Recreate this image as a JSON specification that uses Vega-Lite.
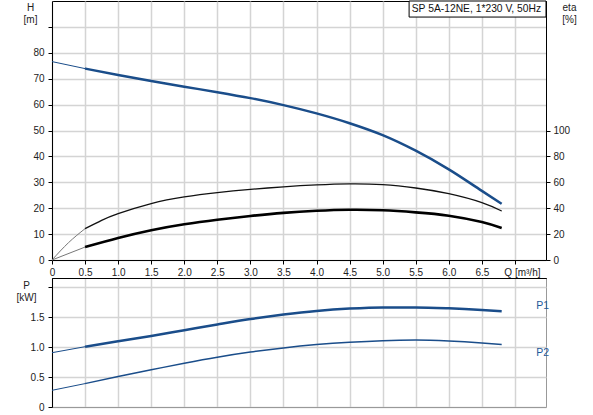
{
  "$schema": "https://vega.github.io/schema/vega-lite/v6.json",
  "padding": {"left": 15, "top": 0, "right": 0, "bottom": 0},
  "bounds": "flush",
  "spacing": 18,
  "data": {
    "values": [
      {"s": "H", "seg": "ext", "q": 0, "v": 76.6},
      {"s": "H", "seg": "ext", "q": 0.5, "v": 73.9},
      {"s": "H", "seg": "main", "q": 0.5, "v": 73.9},
      {"s": "H", "seg": "main", "q": 1.0, "v": 71.4},
      {"s": "H", "seg": "main", "q": 1.5, "v": 69.1},
      {"s": "H", "seg": "main", "q": 2.0, "v": 66.9},
      {"s": "H", "seg": "main", "q": 2.5, "v": 64.8},
      {"s": "H", "seg": "main", "q": 3.0, "v": 62.5},
      {"s": "H", "seg": "main", "q": 3.5, "v": 59.8},
      {"s": "H", "seg": "main", "q": 4.0, "v": 56.6},
      {"s": "H", "seg": "main", "q": 4.5, "v": 52.8},
      {"s": "H", "seg": "main", "q": 5.0, "v": 48.2},
      {"s": "H", "seg": "main", "q": 5.5, "v": 42.2},
      {"s": "H", "seg": "main", "q": 6.0, "v": 35.0},
      {"s": "H", "seg": "main", "q": 6.5, "v": 26.7},
      {"s": "H", "seg": "main", "q": 6.8, "v": 21.7},
      {"s": "eta_p", "seg": "ext", "q": 0, "v": 0},
      {"s": "eta_p", "seg": "ext", "q": 0.25, "v": 13.4},
      {"s": "eta_p", "seg": "ext", "q": 0.5, "v": 24.2},
      {"s": "eta_p", "seg": "main", "q": 0.5, "v": 24.2},
      {"s": "eta_p", "seg": "main", "q": 0.75, "v": 30.6},
      {"s": "eta_p", "seg": "main", "q": 1.0, "v": 35.8},
      {"s": "eta_p", "seg": "main", "q": 1.5, "v": 43.6},
      {"s": "eta_p", "seg": "main", "q": 2.0, "v": 48.7},
      {"s": "eta_p", "seg": "main", "q": 2.5, "v": 52.0},
      {"s": "eta_p", "seg": "main", "q": 3.0, "v": 54.5},
      {"s": "eta_p", "seg": "main", "q": 3.5, "v": 56.5},
      {"s": "eta_p", "seg": "main", "q": 4.0, "v": 58.0},
      {"s": "eta_p", "seg": "main", "q": 4.5, "v": 58.8},
      {"s": "eta_p", "seg": "main", "q": 5.0, "v": 58.2},
      {"s": "eta_p", "seg": "main", "q": 5.5, "v": 55.6},
      {"s": "eta_p", "seg": "main", "q": 6.0, "v": 51.2},
      {"s": "eta_p", "seg": "main", "q": 6.5, "v": 44.3},
      {"s": "eta_p", "seg": "main", "q": 6.8, "v": 37.8},
      {"s": "eta_t", "seg": "ext", "q": 0, "v": 0},
      {"s": "eta_t", "seg": "ext", "q": 0.5, "v": 10.0},
      {"s": "eta_t", "seg": "main", "q": 0.5, "v": 10.0},
      {"s": "eta_t", "seg": "main", "q": 1.0, "v": 17.0},
      {"s": "eta_t", "seg": "main", "q": 1.5, "v": 23.0},
      {"s": "eta_t", "seg": "main", "q": 2.0, "v": 27.6},
      {"s": "eta_t", "seg": "main", "q": 2.5, "v": 31.1},
      {"s": "eta_t", "seg": "main", "q": 3.0, "v": 34.0},
      {"s": "eta_t", "seg": "main", "q": 3.5, "v": 36.4},
      {"s": "eta_t", "seg": "main", "q": 4.0, "v": 38.0},
      {"s": "eta_t", "seg": "main", "q": 4.5, "v": 38.8},
      {"s": "eta_t", "seg": "main", "q": 5.0, "v": 38.4},
      {"s": "eta_t", "seg": "main", "q": 5.5, "v": 36.8},
      {"s": "eta_t", "seg": "main", "q": 6.0, "v": 34.2},
      {"s": "eta_t", "seg": "main", "q": 6.5, "v": 29.3},
      {"s": "eta_t", "seg": "main", "q": 6.8, "v": 24.7},
      {"s": "P1", "seg": "ext", "q": 0, "v": 0.905},
      {"s": "P1", "seg": "ext", "q": 0.5, "v": 1.005},
      {"s": "P1", "seg": "main", "q": 0.5, "v": 1.005},
      {"s": "P1", "seg": "main", "q": 1.0, "v": 1.095},
      {"s": "P1", "seg": "main", "q": 1.5, "v": 1.185},
      {"s": "P1", "seg": "main", "q": 2.0, "v": 1.28},
      {"s": "P1", "seg": "main", "q": 2.5, "v": 1.375},
      {"s": "P1", "seg": "main", "q": 3.0, "v": 1.465},
      {"s": "P1", "seg": "main", "q": 3.5, "v": 1.54},
      {"s": "P1", "seg": "main", "q": 4.0, "v": 1.60},
      {"s": "P1", "seg": "main", "q": 4.5, "v": 1.64},
      {"s": "P1", "seg": "main", "q": 5.0, "v": 1.66},
      {"s": "P1", "seg": "main", "q": 5.5, "v": 1.66},
      {"s": "P1", "seg": "main", "q": 6.0, "v": 1.645},
      {"s": "P1", "seg": "main", "q": 6.5, "v": 1.617},
      {"s": "P1", "seg": "main", "q": 6.8, "v": 1.595},
      {"s": "P2", "seg": "ext", "q": 0, "v": 0.278},
      {"s": "P2", "seg": "ext", "q": 0.5, "v": 0.39},
      {"s": "P2", "seg": "main", "q": 0.5, "v": 0.39},
      {"s": "P2", "seg": "main", "q": 1.0, "v": 0.51},
      {"s": "P2", "seg": "main", "q": 1.5, "v": 0.62},
      {"s": "P2", "seg": "main", "q": 2.0, "v": 0.73},
      {"s": "P2", "seg": "main", "q": 2.5, "v": 0.83},
      {"s": "P2", "seg": "main", "q": 3.0, "v": 0.915},
      {"s": "P2", "seg": "main", "q": 3.5, "v": 0.985},
      {"s": "P2", "seg": "main", "q": 4.0, "v": 1.04},
      {"s": "P2", "seg": "main", "q": 4.5, "v": 1.08},
      {"s": "P2", "seg": "main", "q": 5.0, "v": 1.106},
      {"s": "P2", "seg": "main", "q": 5.5, "v": 1.115},
      {"s": "P2", "seg": "main", "q": 6.0, "v": 1.10},
      {"s": "P2", "seg": "main", "q": 6.5, "v": 1.067},
      {"s": "P2", "seg": "main", "q": 6.8, "v": 1.04}
    ]
  },
  "vconcat": [
    {
      "width": 494,
      "height": 259,
      "encoding": {
        "x": {
          "field": "q", "type": "quantitative",
          "scale": {"domain": [0, 7.47], "nice": false, "zero": false},
          "axis": {
            "title": null,
            "values": [0, 0.5, 1, 1.5, 2, 2.5, 3, 3.5, 4, 4.5, 5, 5.5, 6, 6.5, 7],
            "labelExpr": "datum.value == 7 ? 'Q [m³/h]' : (datum.value == 0 ? '0' : format(datum.value, '.1f'))",
            "labelOffset": {"condition": {"test": "datum.value == 7", "value": 7}, "value": 0},
            "labelFlush": false,
            "labelOverlap": false,
            "labelSeparation": 0
          }
        }
      },
      "layer": [
        {
          "encoding": {
            "y": {
              "field": "v", "type": "quantitative",
              "scale": {"domain": [0, 100], "nice": false},
              "axis": {
                "title": ["H", "[m]"],
                "titleAngle": 0, "titleX": -22, "titleY": 1,
                "titleAlign": "center", "titleBaseline": "top",
                "values": [0, 10, 20, 30, 40, 50, 60, 70, 80, 90],
                "labelExpr": "datum.value <= 80 ? datum.label : ''",
                "labelPadding": 4
              }
            }
          },
          "layer": [
            {
              "transform": [{"filter": "datum.s == 'H' && datum.seg == 'ext'"}],
              "mark": {"type": "line", "color": "#1a4d8a", "strokeWidth": 1, "interpolate": "monotone"}
            },
            {
              "transform": [{"filter": "datum.s == 'H' && datum.seg == 'main'"}],
              "mark": {"type": "line", "color": "#1a4d8a", "strokeWidth": 2.5, "interpolate": "monotone"}
            },
            {
              "transform": [{"filter": "datum.s == 'H' && datum.q == 0"}],
              "mark": {"type": "rect", "fill": "#fff", "stroke": "#000", "strokeWidth": 1},
              "encoding": {
                "x": {"datum": 5.4, "type": "quantitative"},
                "x2": {"datum": 7.47},
                "y": {"datum": 93.8, "type": "quantitative"},
                "y2": {"datum": 100}
              }
            },
            {
              "transform": [{"filter": "datum.s == 'H' && datum.q == 0"}],
              "mark": {"type": "text", "align": "left", "baseline": "middle", "fontSize": 10.3, "color": "#111"},
              "encoding": {
                "x": {"datum": 5.44, "type": "quantitative"},
                "y": {"datum": 96.9, "type": "quantitative"},
                "text": {"value": "SP 5A-12NE, 1*230 V, 50Hz"}
              }
            }
          ]
        },
        {
          "encoding": {
            "y": {
              "field": "v", "type": "quantitative",
              "scale": {"domain": [0, 200], "nice": false},
              "axis": {
                "orient": "right",
                "title": ["eta", "[%]"],
                "titleAngle": 0, "titleX": 23, "titleY": 1,
                "titleAlign": "center", "titleBaseline": "top",
                "values": [0, 20, 40, 60, 80, 100],
                "grid": false
              }
            }
          },
          "layer": [
            {
              "transform": [{"filter": "datum.s == 'eta_p' && datum.seg == 'ext'"}],
              "mark": {"type": "line", "color": "#777", "strokeWidth": 1, "interpolate": "natural"}
            },
            {
              "transform": [{"filter": "datum.s == 'eta_p' && datum.seg == 'main'"}],
              "mark": {"type": "line", "color": "#111", "strokeWidth": 1.3, "interpolate": "natural"}
            },
            {
              "transform": [{"filter": "datum.s == 'eta_t' && datum.seg == 'ext'"}],
              "mark": {"type": "line", "color": "#777", "strokeWidth": 1, "interpolate": "natural"}
            },
            {
              "transform": [{"filter": "datum.s == 'eta_t' && datum.seg == 'main'"}],
              "mark": {"type": "line", "color": "#000", "strokeWidth": 2.6, "interpolate": "natural"}
            }
          ]
        }
      ],
      "resolve": {"scale": {"y": "independent"}}
    },
    {
      "width": 494,
      "height": 129,
      "view": {"stroke": "#999"},
      "encoding": {
        "x": {
          "field": "q", "type": "quantitative",
          "scale": {"domain": [0, 7.47], "nice": false, "zero": false},
          "axis": {
            "title": null,
            "values": [0, 0.5, 1, 1.5, 2, 2.5, 3, 3.5, 4, 4.5, 5, 5.5, 6, 6.5, 7],
            "labels": false, "ticks": false, "domainColor": "#999"
          }
        },
        "y": {
          "field": "v", "type": "quantitative",
          "scale": {"domain": [0, 2.15], "nice": false},
          "axis": {
            "title": ["P", "[kW]"],
            "titleAngle": 0, "titleX": -26, "titleY": 2,
            "titleAlign": "center", "titleBaseline": "top",
            "values": [0, 0.5, 1, 1.5, 2],
            "labelExpr": "datum.value > 1.9 ? '' : (datum.value == 0 ? '0' : format(datum.value, '.1f'))",
            "labelPadding": 4
          }
        }
      },
      "layer": [
        {
          "transform": [{"filter": "datum.s == 'P1' && datum.seg == 'ext'"}],
          "mark": {"type": "line", "color": "#1a4d8a", "strokeWidth": 1, "interpolate": "monotone"}
        },
        {
          "transform": [{"filter": "datum.s == 'P1' && datum.seg == 'main'"}],
          "mark": {"type": "line", "color": "#1a4d8a", "strokeWidth": 2.5, "interpolate": "monotone"}
        },
        {
          "transform": [{"filter": "datum.s == 'P2' && datum.seg == 'ext'"}],
          "mark": {"type": "line", "color": "#1a4d8a", "strokeWidth": 1, "interpolate": "monotone"}
        },
        {
          "transform": [{"filter": "datum.s == 'P2' && datum.seg == 'main'"}],
          "mark": {"type": "line", "color": "#1a4d8a", "strokeWidth": 1.5, "interpolate": "monotone"}
        },
        {
          "transform": [{"filter": "datum.s == 'P1' && datum.q == 0"}],
          "mark": {"type": "text", "align": "center", "baseline": "middle", "fontSize": 10.5, "color": "#1f5a9a"},
          "encoding": {
            "x": {"datum": 7.42, "type": "quantitative", "axis": {"orient": "top", "title": null, "labels": false, "ticks": false, "grid": false, "domainColor": "#000"}},
            "y": {"datum": 1.69, "type": "quantitative"},
            "text": {"field": "s"}
          }
        },
        {
          "transform": [{"filter": "datum.s == 'P2' && datum.q == 0"}],
          "mark": {"type": "text", "align": "center", "baseline": "middle", "fontSize": 10.5, "color": "#1f5a9a"},
          "encoding": {
            "x": {"datum": 7.42, "type": "quantitative", "axis": {"orient": "top", "title": null, "labels": false, "ticks": false, "grid": false, "domainColor": "#000"}},
            "y": {"datum": 0.905, "type": "quantitative"},
            "text": {"field": "s"}
          }
        }
      ],
      "resolve": {"axis": {"x": "independent"}}
    }
  ],
  "config": {
    "font": "Liberation Sans",
    "view": {"stroke": "#000"},
    "axis": {
      "labelFont": "Liberation Sans",
      "labelFontSize": 10,
      "labelColor": "#222",
      "titleFont": "Liberation Sans",
      "titleFontSize": 10,
      "titleFontWeight": "normal",
      "titleColor": "#222",
      "titleLineHeight": 12,
      "gridColor": "#d4d4d4",
      "gridWidth": 1.5,
      "domainColor": "#000",
      "tickColor": "#000",
      "tickSize": 4,
      "labelPadding": 3
    },
    "axisX": {"labelOverlap": false}
  }
}
